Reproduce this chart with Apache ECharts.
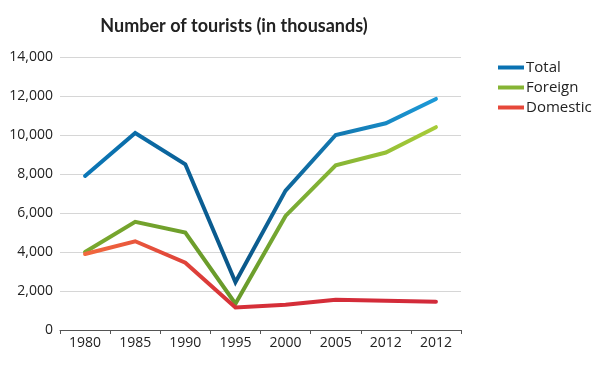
<!DOCTYPE html>
<html><head><meta charset="utf-8">
<script src="https://cdn.jsdelivr.net/npm/echarts@6/dist/echarts.min.js"></script>
<style>html,body{margin:0;padding:0;background:#fff}#c{width:601px;height:367px}</style>
</head><body><div id="c"></div>
<script>
const categories = ['1980','1985','1990','1995','2000','2005','2012','2012'];
const total    = [7900, 10100, 8500, 2450, 7150, 10000, 10600, 11850];
const foreign  = [4000, 5550, 5000, 1350, 5850, 8450, 9100, 10400];
const domestic = [3900, 4550, 3450, 1150, 1300, 1550, 1500, 1450];
const seriesNames = ['Total','Foreign','Domestic'];

const G = (stops) => new echarts.graphic.LinearGradient(0,0,1,0, stops.map(s=>({offset:s[0],color:s[1]})));
const chart = echarts.init(document.getElementById('c'), null, {renderer:'canvas'});
const font = 'Lato, "Open Sans", sans-serif';
const lfont = '"Open Sans", Lato, sans-serif';
function mk(name, data, grad, solid){
  return {name, type:'line', data, symbol:'none', smooth:false,
    itemStyle:{color:solid},
    lineStyle:{width:4, color:G(grad), cap:'round', join:'miter'}};
}
chart.setOption({
  animation:false,
  title:{text:'Number of tourists (in thousands)', left:229, top:12, textAlign:'center',
    textStyle:{fontFamily:font, fontSize:18, fontWeight:'bold', color:'#222'}},
  legend:{orient:'vertical', left:493, top:55, icon:'rect', itemWidth:26, itemHeight:4, itemGap:5,
    textStyle:{fontFamily:lfont, fontSize:15, color:'#222', padding:[0,0,0,-3]},
    data:seriesNames},
  grid:{left:60, right:140, top:57, bottom:37, containLabel:false},
  xAxis:{type:'category', data:categories, boundaryGap:true,
    axisLine:{lineStyle:{color:'#555', width:1}},
    axisTick:{show:true, alignWithLabel:false, length:4, lineStyle:{color:'#555'}},
    axisLabel:{fontFamily:lfont, fontSize:14, color:'#222', margin:6}},
  yAxis:{type:'value', min:0, max:14000, interval:2000,
    axisLine:{show:false}, axisTick:{show:false},
    splitLine:{lineStyle:{color:'#d6d6d6', width:1}},
    axisLabel:{fontFamily:lfont, fontSize:14, color:'#222', margin:7,
      formatter:v=>v.toLocaleString('en-US')}},
  series:[
    mk('Total', total, [[0,'#0b78b8'],[0.43,'#0a5688'],[1,'#1c9ad8']], '#0a72b2'),
    mk('Foreign', foreign, [[0,'#7aa82e'],[0.43,'#689a2a'],[0.6,'#7aac34'],[1,'#a8cc38']], '#86b434'),
    mk('Domestic', domestic, [[0,'#f26a3e'],[0.43,'#d63038'],[1,'#d22a3a']], '#e6483a')
  ]
});
</script></body></html>
